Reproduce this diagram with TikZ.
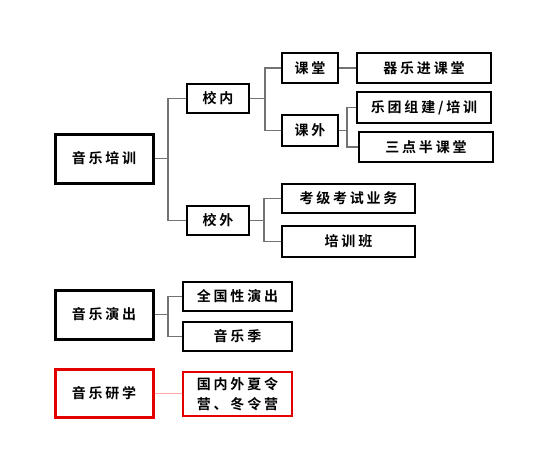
\documentclass[tikz,border=0pt]{standalone}
\usepackage{fontspec}
\newfontfamily\cjkb{Noto Sans CJK SC Bold}[LetterSpace=20]
\begin{document}
\begin{tikzpicture}[x=1pt,y=-1pt,
  box/.style={draw=black,line width=1.6pt,fill=white,inner sep=0pt,font=\cjkb\fontsize{14}{20}\selectfont,align=center},
  rootbox/.style={box,line width=3pt},
  redroot/.style={rootbox,draw=red!90!black},
  redbox/.style={box,draw=red!90!black,line width=1.2pt},
  conn/.style={draw=black!55,line width=1.1pt},
  redconn/.style={draw=red!35,line width=1pt}]
\useasboundingbox (0,0) rectangle (539,461);
% level 0
\node[rootbox,minimum width=98pt,minimum height=49pt] (r1) at (104,158.5) {音乐培训};
\node[rootbox,minimum width=98pt,minimum height=49pt] (r2) at (104,314.5) {音乐演出};
\node[redroot,minimum width=98pt,minimum height=48pt] (r3) at (104,393) {音乐研学};
% level 1
\node[box,minimum width=62pt,minimum height=29pt] (xn) at (218,98.5) {校内};
\node[box,minimum width=62pt,minimum height=29pt] (xw) at (218,220.5) {校外};
% level 2
\node[box,minimum width=56pt,minimum height=30pt] (kt) at (310,68) {课堂};
\node[box,minimum width=56pt,minimum height=31pt] (kw) at (310,130.5) {课外};
\node[box,minimum width=133pt,minimum height=29pt] (kj) at (348.5,198.5) {考级考试业务};
\node[box,minimum width=133pt,minimum height=31pt] (px) at (348.5,241.5) {培训班};
% level 3
\node[box,minimum width=134pt,minimum height=30pt] (qy) at (424,68) {器乐进课堂};
\node[box,minimum width=134pt,minimum height=31pt] (yt) at (424,107.5) {乐团组建/培训};
\node[box,minimum width=134pt,minimum height=30pt] (sd) at (426,147) {三点半课堂};
% performance
\node[box,minimum width=109pt,minimum height=29pt] (qg) at (237.5,296.5) {全国性演出};
\node[box,minimum width=109pt,minimum height=29pt] (yj) at (237.5,336.5) {音乐季};
% study
\node[redbox,minimum width=109pt,minimum height=44pt] (gn) at (237.5,394) {国内外夏令\\营、冬令营};
% bus coordinates
\coordinate (b1) at (168,158.5);
\coordinate (b2) at (265,98.5);
\coordinate (b3) at (347,130.5);
\coordinate (b4) at (264,220.5);
\coordinate (b5) at (168,314.5);
% connectors
\draw[conn] (r1.east) -- (b1);
\draw[conn] (b1) |- (xn.west);
\draw[conn] (b1) |- (xw.west);
\draw[conn] (xn.east) -- (b2);
\draw[conn] (b2) |- (kt.west);
\draw[conn] (b2) |- (kw.west);
\draw[conn] (kt.east) -- (qy.west);
\draw[conn] (kw.east) -- (b3);
\draw[conn] (b3) |- (yt.west);
\draw[conn] (b3) |- (sd.west);
\draw[conn] (xw.east) -- (b4);
\draw[conn] (b4) |- (kj.west);
\draw[conn] (b4) |- (px.west);
\draw[conn] (r2.east) -- (b5);
\draw[conn] (b5) |- (qg.west);
\draw[conn] (b5) |- (yj.west);
\draw[redconn] (r3.east) -- (gn.west |- r3.east);
\end{tikzpicture}
\end{document}
